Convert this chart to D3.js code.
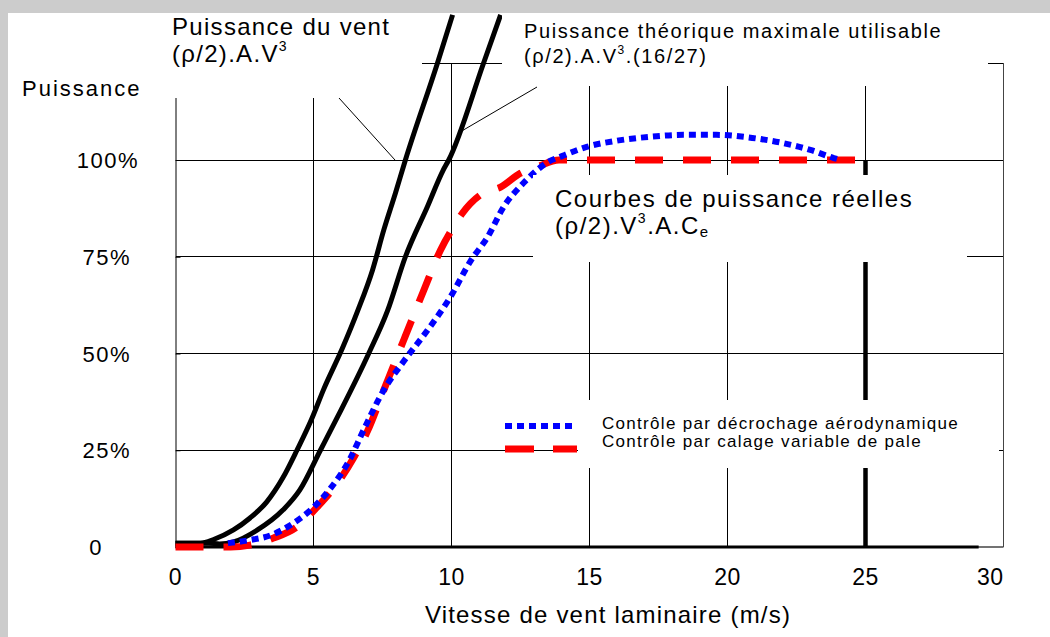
<!DOCTYPE html>
<html>
<head>
<meta charset="utf-8">
<script src="https://cdn.jsdelivr.net/npm/d3@7"></script>
<style>
  body { margin: 0; background: #cccccc; }
  svg { display: block; font-family: "Liberation Sans", Arial, sans-serif; }
</style>
</head>
<body>
<svg id="chart" width="1050" height="637"></svg>
<script>
// wind speed (m/s) / power (fraction of rated)
const ventV = [0, 0.9, 1.4, 2.1, 2.7, 3.3, 3.9, 4.4, 4.93, 5.36, 6.05, 6.6, 7.14, 7.55, 7.97, 8.33, 9.49, 10.04];
const ventP = [0.01, 0.01, 0.02, 0.044, 0.075, 0.116, 0.18, 0.25, 0.33, 0.406, 0.514, 0.61, 0.716, 0.82, 0.915, 1.0, 1.25, 1.375];

const betzV = [0, 1.2, 1.6, 2.1, 2.97, 3.9, 4.5, 5.25, 5.87, 7.0, 7.68, 8.33, 9.13, 9.7, 9.9, 11.16, 11.78];
const betzP = [0.01, 0.01, 0.008, 0.013, 0.044, 0.096, 0.147, 0.25, 0.336, 0.5, 0.61, 0.75, 0.88, 0.974, 1.0, 1.25, 1.375];

const stallV = [1.9, 2.7, 3.44, 4.17, 4.9, 5.6, 6.34, 6.8, 7.55, 8.27, 9.13, 9.96, 10.7, 11.3, 11.9, 12.6, 13.1, 13.5, 14.0, 14.9, 16.0, 17.2, 18.4, 19.6, 20.9, 22.0, 23.0, 23.85, 24.1];
const stallP = [0.01, 0.018, 0.03, 0.057, 0.096, 0.15, 0.23, 0.30, 0.406, 0.48, 0.56, 0.646, 0.74, 0.80, 0.88, 0.94, 0.974, 0.995, 1.01, 1.034, 1.05, 1.06, 1.065, 1.065, 1.057, 1.044, 1.026, 1.005, 1.0];

const pitchV = [0, 2.0, 2.7, 3.55, 4.4, 5.13, 5.87, 6.45, 6.96, 7.55, 8.27, 9.0, 9.6, 10.07, 10.4, 11.16, 11.78, 12.5, 13.1, 13.9, 25];
const pitchP = [0, 0, 0.005, 0.023, 0.052, 0.103, 0.165, 0.23, 0.30, 0.406, 0.535, 0.664, 0.767, 0.827, 0.863, 0.915, 0.93, 0.966, 0.982, 1.0, 1.0];

const cutOutV = [25, 25];
const cutOutP = [0, 1];

const xTicks = [0, 5, 10, 15, 20, 25, 30];
const yTicks = [0, 0.25, 0.5, 0.75, 1.0];
const yTickLabels = ["0", "25%", "50%", "75%", "100%"];

const legendLabels = ["Contrôle par décrochage aérodynamique", "Contrôle par calage variable de pale"];

const zip = (xs, ys) => xs.map((x, i) => ({ x: x, y: ys[i] }));

const svg = d3.select("#chart");

// white panel on grey page
svg.append("rect").attr("x", 8).attr("y", 13).attr("width", 1042).attr("height", 624).attr("fill", "#fff");

const xScale = d3.scaleLinear().domain([0, 30]).range([175.5, 1003.5]);
const yScale = d3.scaleLinear().domain([0, 1.25]).range([547, 63.25]);

// grid
const grid = svg.append("g").attr("shape-rendering", "crispEdges");
grid.selectAll(".hgrid")
    .data([0.25, 0.5, 0.75, 1.0, 1.25])
    .enter().append("line")
    .attr("x1", xScale(0)).attr("x2", xScale(30))
    .attr("y1", d => yScale(d)).attr("y2", d => yScale(d))
    .attr("stroke", "#000").attr("stroke-width", 1);
grid.selectAll(".vgrid")
    .data([5, 10, 15, 20, 25])
    .enter().append("line")
    .attr("x1", d => xScale(d)).attr("x2", d => xScale(d))
    .attr("y1", yScale(1.25)).attr("y2", yScale(0))
    .attr("stroke", "#000").attr("stroke-width", 1);
// right frame
grid.append("line")
    .attr("x1", xScale(30)).attr("x2", xScale(30))
    .attr("y1", yScale(1.25)).attr("y2", yScale(0))
    .attr("stroke", "#444").attr("stroke-width", 1);

// y axis
const yAxis = svg.append("g")
    .attr("transform", "translate(" + xScale(0) + ",0)")
    .call(d3.axisLeft(yScale).tickValues(yTicks).tickSize(-5).tickFormat(""));
yAxis.select(".domain").attr("stroke", "#000");
yAxis.selectAll(".tick line").attr("stroke", "#000");

// x axis baseline
svg.append("line")
    .attr("x1", xScale(0)).attr("x2", xScale(30))
    .attr("y1", yScale(0)).attr("y2", yScale(0))
    .attr("stroke", "#444").attr("stroke-width", 1.5);
svg.append("line")
    .attr("x1", xScale(0)).attr("x2", xScale(29.1))
    .attr("y1", yScale(0)).attr("y2", yScale(0))
    .attr("stroke", "#000").attr("stroke-width", 3);

// tick labels
svg.selectAll(".xlab")
    .data(xTicks)
    .enter().append("text")
    .attr("x", d => xScale(d))
    .attr("y", 585)
    .attr("text-anchor", (d, i) => i === xTicks.length - 1 ? "end" : "middle")
    .attr("font-size", 23)
    .attr("letter-spacing", 0.5)
    .text(d => d);

svg.selectAll(".ylab")
    .data(yTicks)
    .enter().append("text")
    .attr("x", d => d === 0 ? 96 : (d === 1 ? 139 : 131))
    .attr("y", d => yScale(d) + 8)
    .attr("text-anchor", d => d === 0 ? "middle" : "end")
    .attr("font-size", 22)
    .attr("letter-spacing", 1.5)
    .text((d, i) => yTickLabels[i]);

svg.append("text")
    .attr("x", 608).attr("y", 623)
    .attr("text-anchor", "middle")
    .attr("font-size", 24)
    .attr("letter-spacing", 1.2)
    .text("Vitesse de vent laminaire (m/s)");

svg.append("text")
    .attr("x", 22).attr("y", 96)
    .attr("font-size", 22)
    .attr("letter-spacing", 2)
    .text("Puissance");

// series
const line = d3.line()
    .x(d => xScale(d.x))
    .y(d => yScale(d.y))
    .curve(d3.curveMonotoneX);

svg.append("path").datum(zip(ventV, ventP))
    .attr("d", line).attr("fill", "none")
    .attr("stroke", "#000").attr("stroke-width", 5);
svg.append("path").datum(zip(betzV, betzP))
    .attr("d", line).attr("fill", "none")
    .attr("stroke", "#000").attr("stroke-width", 5);
svg.append("path").datum(zip(pitchV, pitchP))
    .attr("d", line).attr("fill", "none")
    .attr("stroke", "#ff0000").attr("stroke-width", 7)
    .attr("stroke-dasharray", "28,20");
svg.append("path").datum(zip(stallV, stallP))
    .attr("d", line).attr("fill", "none")
    .attr("stroke", "#0000ff").attr("stroke-width", 6)
    .attr("stroke-dasharray", "7,5");
svg.append("path").datum(zip(cutOutV, cutOutP))
    .attr("d", d3.line().x(d => xScale(d.x)).y(d => yScale(d.y)))
    .attr("fill", "none")
    .attr("stroke", "#000").attr("stroke-width", 4.5);

// leader lines
svg.append("line").attr("x1", 339).attr("y1", 98).attr("x2", 395).attr("y2", 160)
    .attr("stroke", "#000").attr("stroke-width", 1);
svg.append("line").attr("x1", 460).attr("y1", 132).attr("x2", 537).attr("y2", 87)
    .attr("stroke", "#000").attr("stroke-width", 1);

// white label boxes (drawn over the plot, as in the original)
const boxes = [
    [140, 13, 282, 85],
    [502, 13, 486, 73],
    [533, 175, 434, 87],
    [578, 400, 421, 68]
];
svg.selectAll(".box")
    .data(boxes)
    .enter().append("rect")
    .attr("x", d => d[0]).attr("y", d => d[1])
    .attr("width", d => d[2]).attr("height", d => d[3])
    .attr("fill", "#fff");

// annotations
const t1 = svg.append("text").attr("font-size", 24).attr("letter-spacing", 1.3);
t1.append("tspan").attr("x", 172).attr("y", 35).text("Puissance du vent");
t1.append("tspan").attr("x", 172).attr("y", 62).text("(ρ/2).A.V");
t1.append("tspan").attr("font-size", 14).attr("dy", -11).text("3");

const t2 = svg.append("text").attr("font-size", 20).attr("letter-spacing", 1.6);
t2.append("tspan").attr("x", 524).attr("y", 38).text("Puissance théorique maximale utilisable");
t2.append("tspan").attr("x", 524).attr("y", 63).text("(ρ/2).A.V");
t2.append("tspan").attr("font-size", 12).attr("dy", -9).text("3");
t2.append("tspan").attr("dy", 9).text(".(16/27)");

const t3 = svg.append("text").attr("font-size", 24).attr("letter-spacing", 1.5);
t3.append("tspan").attr("x", 555).attr("y", 207).text("Courbes de puissance réelles");
t3.append("tspan").attr("x", 555).attr("y", 234).text("(ρ/2).V");
t3.append("tspan").attr("font-size", 14).attr("dy", -11).text("3");
t3.append("tspan").attr("dy", 11).text(".A.C");
t3.append("tspan").attr("font-size", 15).attr("dy", 3).text("e");

// legend
const legendY = [426, 449];
const legendStyle = [
    { color: "#0000ff", width: 6, dash: "7,5" },
    { color: "#ff0000", width: 7, dash: "29,19" }
];
legendLabels.forEach((label, i) => {
    svg.append("line")
        .attr("x1", 505).attr("x2", 577)
        .attr("y1", legendY[i]).attr("y2", legendY[i])
        .attr("stroke", legendStyle[i].color)
        .attr("stroke-width", legendStyle[i].width)
        .attr("stroke-dasharray", legendStyle[i].dash);
    svg.append("text")
        .attr("x", 602).attr("y", legendY[i] + 3 - i * 5)
        .attr("font-size", 17)
        .attr("letter-spacing", 1.3)
        .text(label);
});
</script>
</body>
</html>
